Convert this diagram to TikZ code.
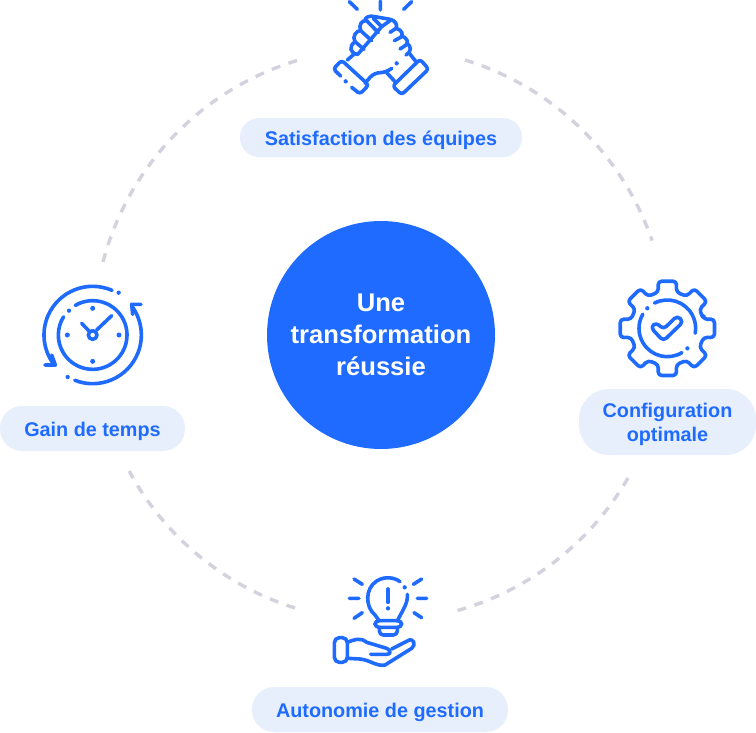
\documentclass[tikz,border=0pt]{standalone}
\usepackage{fontspec}
\setmainfont{Liberation Sans}
\definecolor{mainblue}{HTML}{1F6BFF}
\definecolor{pillblue}{HTML}{E7EFFD}
\definecolor{ringgrey}{HTML}{D3D2DE}
\tikzset{
  ringarc/.style={line width=3.4pt,ringgrey,dash pattern=on 9pt off 8.7pt},
  pill/.style={fill=pillblue,inner sep=0pt},
  pilltext/.style={yshift=-2.7pt,inner sep=0pt,text=mainblue,align=center,font=\fontsize{19.8}{24}\selectfont\bfseries},
  icon/.style={line width=3.6pt,mainblue,line cap=round,line join=round},
  icondot/.style={fill=mainblue,draw=none}
}
\begin{document}
\begin{tikzpicture}[x=1pt,y=-1pt]
  \useasboundingbox (0,0) rectangle (756,732);

  \coordinate (c) at (381,335);
  \coordinate (r1) at (465,60);
  \coordinate (r2) at (628,478);
  \coordinate (r3) at (295,608);
  \coordinate (r4) at (103,262);
  \draw[ringarc] (r1) arc[start angle=-73,end angle=-19,radius=286.5];
  \draw[ringarc] (r2) arc[start angle=30,end angle=74.4,radius=286.5];
  \draw[ringarc] (r3) arc[start angle=107.5,end angle=151.6,radius=286.5];
  \draw[ringarc] (r4) arc[start angle=194.7,end angle=253.6,radius=286.5];

  \node (centre)[circle,fill=mainblue,minimum size=228pt,inner sep=0pt,
    label={[yshift=0pt,inner sep=0pt,text=white,align=center,font=\fontsize{25.6}{32}\selectfont\bfseries]center:Une\\transformation\\réussie}] at (c) {};

  \node (n1)[pill,minimum width=282pt,minimum height=39pt,rounded corners=19pt,label={[pilltext]center:Satisfaction des équipes}] at (381,137.5) {};
  \node (n2)[pill,minimum width=177pt,minimum height=66pt,rounded corners=30pt,label={[pilltext]center:Configuration\\optimale}] at (667.5,422) {};
  \node (n3)[pill,minimum width=256pt,minimum height=45pt,rounded corners=22pt,label={[pilltext]center:Autonomie de gestion}] at (380,709.5) {};
  \node (n4)[pill,minimum width=185pt,minimum height=45pt,rounded corners=22pt,label={[pilltext]center:Gain de temps}] at (92.5,428.5) {};

  % handshake
  \begin{scope}[shift={(310,0)},scale=1/3]
    \draw[icon] (118,5) -- (142,28) (211,3) -- (211,30) (305,5) -- (281,28);
    \draw[icon,rounded corners=3pt] (92,228) -- (70,207) -- (95,181) -- (176,255) -- (150,282) -- (125,262);
    \draw[icon,rounded corners=3pt] (330,178) -- (356,207) -- (275,284) -- (248,258) -- cycle;
    \fill[icondot] (107,244) circle (6.5);
    \fill[icondot] (260,190) circle (6.5);
    \draw[icon] (112,180) -- (135,160);
    \draw[icon] (143,163) .. controls (120,160) and (115,140) .. (135,125) -- (162,148);
    \draw[icon] (135,125) .. controls (125,110) and (140,90) .. (152,92) -- (185,122);
    \draw[icon] (152,92) .. controls (145,75) and (155,60) .. (170,62) -- (205,98);
    \draw[icon] (165,62) .. controls (165,50) and (180,46) .. (195,50) -- (240,58)
      .. controls (255,60) and (264,75) .. (258,85) -- (240,97);
    \draw[icon] (190,55) -- (215,80) -- (240,62);
    \draw[icon] (215,80) -- (143,163);
    \draw[icon] (258,85) .. controls (275,88) and (282,105) .. (272,112) -- (253,122);
    \draw[icon] (275,108) .. controls (290,112) and (298,128) .. (288,135) -- (270,147);
    \draw[icon] (290,130) .. controls (305,138) and (305,155) .. (288,165);
    \draw[icon] (298,160) -- (318,185);
    \draw[icon,rounded corners=6pt] (165,250) -- (192,218) -- (228,218) -- (245,205);
    \draw[icon] (230,218) -- (255,245);
  \end{scope}

  % gear
  \begin{scope}[shift={(600,270)},scale=1/3]
    \coordinate (g) at (202,175);
    \draw[icon,rounded corners=3.5pt,shift={(g)}] (-14:112)
      foreach \a in {0,45,...,315} { -- (\a-14:112) -- (\a-11:144) -- (\a+11:144) -- (\a+14:112) } -- cycle;
    \draw[icon,shift={(g)}] (243:85) arc[start angle=243,end angle=370,radius=85];
    \draw[icon,shift={(g)}] (59:85) arc[start angle=59,end angle=210,radius=85];
    \fill[icondot,shift={(g)}] (225:85) circle (6.5) (45:85) circle (6.5);
    \draw[icon,rounded corners=4pt] (152,172) -- (168,157) -- (190,178) -- (232,137) -- (250,155) -- (190,213) -- cycle;
  \end{scope}

  % bulb and hand
  \begin{scope}[shift={(320,565)},scale=1/3]
    \draw[icon] (102,42) -- (127,58) (88,100) -- (117,100) (102,160) -- (127,143)
      (305,42) -- (280,58) (320,100) -- (292,100) (305,158) -- (282,143);
    \draw[icon] (240,50) .. controls (225,38) and (195,32) .. (170,48)
      .. controls (135,70) and (135,125) .. (165,150) -- (178,168);
    \draw[icon] (262,88) .. controls (265,115) and (245,140) .. (232,168);
    \fill[icondot] (254,67) circle (6.5);
    \draw[icon] (204,72) -- (204,112);
    \fill[icondot] (204,130) circle (6.5);
    \draw[icon,rounded corners=4pt] (165,167) rectangle (245,187);
    \draw[icon,rounded corners=4pt] (178,187) -- (178,210) -- (232,210) -- (232,187);
    \draw[icon,rounded corners=5pt] (43,218) rectangle (82,292);
    \draw[icon] (82,232) .. controls (100,225) and (120,215) .. (140,232) -- (200,250)
      .. controls (212,255) and (215,268) .. (200,268) -- (152,268);
    \draw[icon] (82,280) -- (120,282) .. controls (150,285) and (170,305) .. (195,300) -- (275,250)
      .. controls (290,240) and (280,215) .. (262,228) -- (215,252);
  \end{scope}

  % clock
  \begin{scope}[shift={(30,275)},scale=1/3]
    \coordinate (k) at (188,180);
    \draw[icon,shift={(k)}] (239.5:103) arc[start angle=239.5,end angle=572,radius=103];
    \fill[icondot] (117,107) circle (6.5) (266,53) circle (6.5) (113,306) circle (6.5);
    \foreach \p in {(188,100),(188,259),(112,180),(267,180)}
      \fill[icondot] \p circle (7.5);
    \draw[icon] (k) circle (13);
    \draw[icon] (155,145) -- (177,168) (200,165) -- (245,122);
    \draw[icon,shift={(k)}] (293.5:146) arc[start angle=293.5,end angle=146,radius=146];
    \draw[icon] (45,270) -- (76,270) -- (65,240);
    \draw[icon,shift={(k)}] (111.7:146) arc[start angle=111.7,end angle=-35,radius=146];
    \draw[icon] (333,88) -- (305,88) -- (308,118);
  \end{scope}
\end{tikzpicture}
\end{document}
